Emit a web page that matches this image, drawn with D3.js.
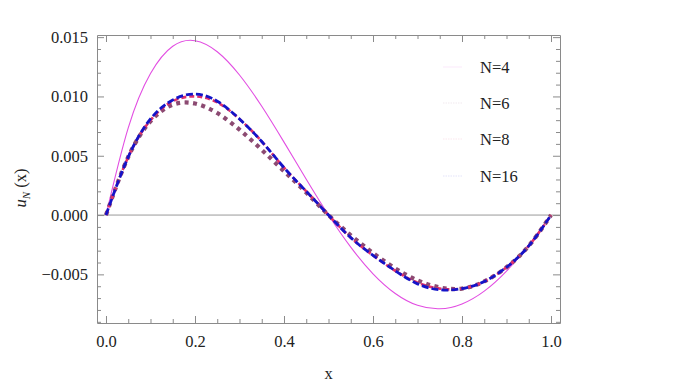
<!DOCTYPE html>
<html><head><meta charset="utf-8">
<script src="https://cdn.jsdelivr.net/npm/d3@7"></script>
<style>
html,body{margin:0;padding:0;background:#fff;}
svg text{font-family:'Liberation Serif','Times New Roman',Times,'DejaVu Serif',serif !important;}
</style></head>
<body><svg id="c" width="685" height="389"></svg>
<script>
const xs = [0,0.05,0.1,0.15,0.2,0.25,0.3,0.35,0.4,0.45,0.5,0.55,0.6,0.65,0.7,0.75,0.8,0.85,0.9,0.95,1.0];
const uN4  = [0,0.00735,0.01193,0.01423,0.01470,0.01377,0.01181,0.00917,0.00615,0.00302,0,-0.00271,-0.00495,-0.00661,-0.00761,-0.00790,-0.00749,-0.00641,-0.00472,-0.00253,0];
const uN6  = [0,0.0049,0.0079,0.0093,0.0094,0.0086,0.0072,0.0055,0.0037,0.0019,0,-0.0017,-0.0032,-0.0045,-0.0055,-0.0061,-0.0062,-0.0056,-0.0044,-0.0026,0];
const uN8  = [0,0.0049,0.0080,0.0096,0.0100,0.0095,0.0081,0.0062,0.0040,0.0020,0,-0.0019,-0.0034,-0.0047,-0.0057,-0.0062,-0.0062,-0.0056,-0.0044,-0.0026,0];
const uN16 = [0,0.0049,0.0081,0.0097,0.0102,0.0096,0.0081,0.0062,0.0040,0.0020,0,-0.0019,-0.0034,-0.0047,-0.0058,-0.0063,-0.0062,-0.0056,-0.0044,-0.0026,0];
const seriesNames = ["N=4","N=6","N=8","N=16"];
const xTicks = [0,0.2,0.4,0.6,0.8,1.0];
const yTicks = [-0.005,0,0.005,0.010,0.015];

const series = [
  {name:seriesNames[0], v:uN4,  color:"#e24ee2", w:1.1, dash:null},
  {name:seriesNames[1], v:uN6,  color:"#8c4a72", w:4.2, dash:"4,4.5"},
  {name:seriesNames[2], v:uN8,  color:"#e0306c", w:2.6, dash:"5,3"},
  {name:seriesNames[3], v:uN16, color:"#1414c8", w:2.8, dash:"7,3"}
];

const L=97,R=560,T=35,B=323;
const x = d3.scaleLinear().domain([-0.0202,1.0202]).range([L,R]);
const y = d3.scaleLinear().domain([-0.0091,0.01518]).range([B,T]);
const svg = d3.select("#c");
const axisColor="#8a8a8a";
const FONT="'Liberation Serif','Times New Roman',Times,serif";

svg.append("line").attr("x1",L).attr("x2",R).attr("y1",y(0)).attr("y2",y(0))
  .attr("stroke","#999").attr("stroke-width",1);

const line = d3.line().x((d,i)=>x(xs[i])).y(d=>y(d)).curve(d3.curveNatural);
series.forEach(s=>{
  svg.append("path").datum(s.v).attr("d",line).attr("fill","none")
    .attr("stroke",s.color).attr("stroke-width",s.w)
    .attr("stroke-dasharray",s.dash).attr("stroke-linecap","butt");
});

const xMinor = d3.range(0,1.0001,0.05).filter(v=>!xTicks.some(t=>Math.abs(t-v)<1e-6));
const yMinor = d3.range(-0.009,0.01501,0.001).filter(v=>!yTicks.some(t=>Math.abs(t-v)<1e-7));
function styleAxis(g){
  g.attr("font-family",FONT);
  g.select(".domain").attr("stroke",axisColor);
  g.selectAll(".tick line").attr("stroke",axisColor);
}
function styleText(g){
  g.selectAll("text").attr("font-size",16.5).attr("fill","#222").style("font-family",FONT);
}
const fmt = d3.format(".1f"), fmtY = d3.format(".3f");
const fmtYm = v => (v<0?"\u2212":"")+fmtY(Math.abs(v));

svg.append("g").attr("transform",`translate(0,${B})`)
  .call(d3.axisBottom(x).tickValues(xTicks).tickSize(-7).tickSizeOuter(0).tickPadding(12).tickFormat(fmt))
  .call(styleAxis).call(styleText);
svg.append("g").attr("transform",`translate(0,${B})`)
  .call(d3.axisBottom(x).tickValues(xMinor).tickSize(-4).tickSizeOuter(0).tickFormat(""))
  .call(styleAxis).call(g=>g.select(".domain").remove());
svg.append("g").attr("transform",`translate(0,${T})`)
  .call(d3.axisTop(x).tickValues(xTicks).tickSize(-7).tickSizeOuter(0).tickFormat(""))
  .call(styleAxis);
svg.append("g").attr("transform",`translate(0,${T})`)
  .call(d3.axisTop(x).tickValues(xMinor).tickSize(-4).tickSizeOuter(0).tickFormat(""))
  .call(styleAxis).call(g=>g.select(".domain").remove());
svg.append("g").attr("transform",`translate(${L},0)`)
  .call(d3.axisLeft(y).tickValues(yTicks).tickSize(-7).tickSizeOuter(0).tickPadding(9).tickFormat(fmtYm))
  .call(styleAxis).call(styleText);
svg.append("g").attr("transform",`translate(${L},0)`)
  .call(d3.axisLeft(y).tickValues(yMinor).tickSize(-4).tickSizeOuter(0).tickFormat(""))
  .call(styleAxis).call(g=>g.select(".domain").remove());
svg.append("g").attr("transform",`translate(${R},0)`)
  .call(d3.axisRight(y).tickValues(yTicks).tickSize(-7).tickSizeOuter(0).tickFormat(""))
  .call(styleAxis);
svg.append("g").attr("transform",`translate(${R},0)`)
  .call(d3.axisRight(y).tickValues(yMinor).tickSize(-4).tickSizeOuter(0).tickFormat(""))
  .call(styleAxis).call(g=>g.select(".domain").remove());

svg.append("text").attr("x",x(0.5)).attr("y",379).attr("text-anchor","middle")
  .attr("font-size",16.5).attr("fill","#222").style("font-family",FONT).text("x");
const yl = svg.append("text").attr("transform","translate(26,188) rotate(-90)")
  .attr("text-anchor","middle").attr("font-size",16.5).attr("fill","#222").style("font-family",FONT);
yl.append("tspan").attr("font-style","italic").text("u");
yl.append("tspan").attr("font-style","italic").attr("font-size",11).attr("dy",4).text("N");
yl.append("tspan").attr("dy",-4).text(" (x)");

const legY = [67,103,139,176];
series.forEach((s,i)=>{
  svg.append("line").attr("x1",443).attr("x2",462).attr("y1",legY[i]).attr("y2",legY[i])
    .attr("stroke",s.color).attr("stroke-opacity",0.12).attr("stroke-width",1)
    .attr("stroke-dasharray",s.dash?"1.5,1":null);
  svg.append("text").attr("x",480).attr("y",legY[i]+5.5).attr("font-size",16.5)
    .attr("fill","#222").style("font-family",FONT).text(s.name);
});
</script></body></html>
